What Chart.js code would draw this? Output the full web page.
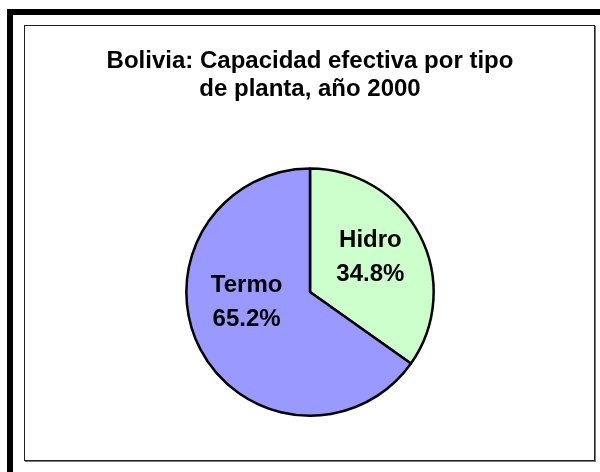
<!DOCTYPE html>
<html>
<head>
<meta charset="utf-8">
<script src="https://cdn.jsdelivr.net/npm/chart.js@4/dist/chart.umd.min.js"></script>
<style>
  html, body { margin: 0; padding: 0; background: #fff; }
  #wrap { position: relative; width: 600px; height: 472px; overflow: hidden; background: #fff; }
  #outer { position: absolute; left: 7px; top: 9px; width: 700px; height: 600px; border: 6px solid #000; box-sizing: border-box; }
  #inner { position: absolute; left: 24px; top: 25px; width: 571px; height: 436px; border: 1px solid #222; box-shadow: 1px 1px 0 #777; box-sizing: border-box; background: #fff; }
  #c { position: absolute; left: 0; top: 0; }
</style>
</head>
<body>
<div id="wrap">
  <div id="outer"></div>
  <div id="inner"></div>
  <canvas id="c" width="600" height="472"></canvas>
</div>
<script>
const titleLines = ['Bolivia: Capacidad efectiva por tipo', 'de planta, año 2000'];
const categories = ['Hidro', 'Termo'];
const values = [34.8, 65.2];
const sliceColors = ['#CCFFCC', '#9999FF'];
const labelShift = [[0, -3], [-3, -21]];

const FONT = '"Liberation Sans", Arial, Helvetica, sans-serif';

const sliceLabels = {
  id: 'sliceLabels',
  afterDatasetsDraw(chart) {
    const ctx = chart.ctx;
    const meta = chart.getDatasetMeta(0);
    const data = chart.data.datasets[0].data;
    const total = data.reduce((a, b) => a + b, 0);
    ctx.save();
    ctx.font = 'bold 24px ' + FONT;
    ctx.fillStyle = '#000';
    ctx.textAlign = 'center';
    ctx.textBaseline = 'middle';
    meta.data.forEach((arc, i) => {
      const p = arc.getProps(['x', 'y', 'startAngle', 'endAngle', 'outerRadius'], true);
      const mid = (p.startAngle + p.endAngle) / 2;
      const r = p.outerRadius * 0.55;
      const cx = p.x + Math.cos(mid) * r + labelShift[i][0];
      const cy = p.y + Math.sin(mid) * r + labelShift[i][1];
      const pct = (data[i] / total * 100).toFixed(1) + '%';
      ctx.fillText(chart.data.labels[i], cx, cy - 17);
      ctx.fillText(pct, cx, cy + 17);
    });
    ctx.restore();
  }
};

new Chart(document.getElementById('c'), {
  type: 'pie',
  data: {
    labels: categories,
    datasets: [{
      data: values,
      backgroundColor: sliceColors,
      borderColor: '#000',
      borderWidth: 2.5
    }]
  },
  options: {
    responsive: false,
    animation: false,
    events: [],
    layout: { padding: { top: 30, left: 30, right: 10, bottom: 55 } },
    plugins: {
      legend: { display: false },
      tooltip: { enabled: false },
      title: {
        display: true,
        text: titleLines,
        color: '#000',
        font: { family: FONT, size: 24, weight: 'bold', lineHeight: 1.15 },
        padding: { top: 18, bottom: 64 }
      }
    }
  },
  plugins: [sliceLabels]
});
</script>
</body>
</html>
